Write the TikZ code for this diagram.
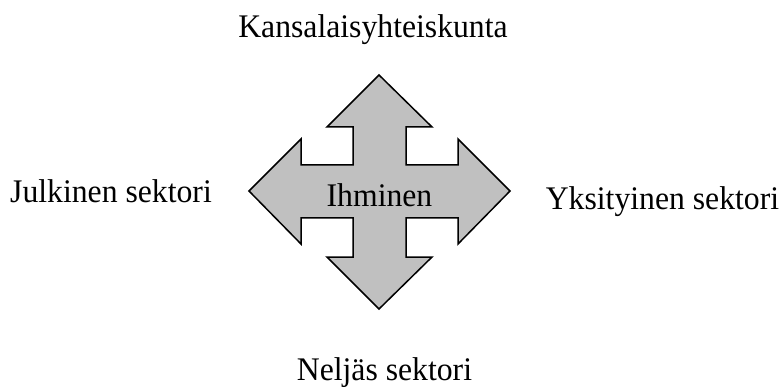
\documentclass[tikz,border=0pt]{standalone}
\usepackage{fontspec}
\setmainfont{Liberation Serif}
\definecolor{arrowfill}{RGB}{192,192,192}
\tikzset{
  lbl/.style={anchor=base, inner sep=0pt, font=\fontsize{31.7}{36}\selectfont},
  cross/.style={draw=black, fill=arrowfill, line width=1.5pt, line join=miter}
}
\newcommand{\tallish}[1]{\scalebox{1}[1.04]{#1}}
\begin{document}
\begin{tikzpicture}[x=1pt,y=-1pt]
\useasboundingbox (0,0) rectangle (781,387);
\draw[cross] (379,75) -- (432,127) -- (406,127) -- (406,165) -- (458,165) -- (458,139)
  -- (510,191) -- (458,244) -- (458,218) -- (406,218) -- (406,257) -- (432,257)
  -- (379,309) -- (327,257) -- (353,257) -- (353,218) -- (301,218) -- (301,244)
  -- (249,191) -- (301,139) -- (301,165) -- (353,165) -- (353,127) -- (327,127) -- cycle;
\node[lbl] (ihminen) at (379.5,207) {\tallish{Ihminen}};
\node[lbl] (kansa) at (373,38) {\tallish{Kansalaisyhteiskunta}};
\node[lbl] (julk) at (111,203) {\tallish{Julkinen sektori}};
\node[lbl] (yks) at (662.5,210) {\tallish{Yksityinen sektori}};
\node[lbl] (nelj) at (384.5,380) {\tallish{Neljäs sektori}};
\end{tikzpicture}
\end{document}
